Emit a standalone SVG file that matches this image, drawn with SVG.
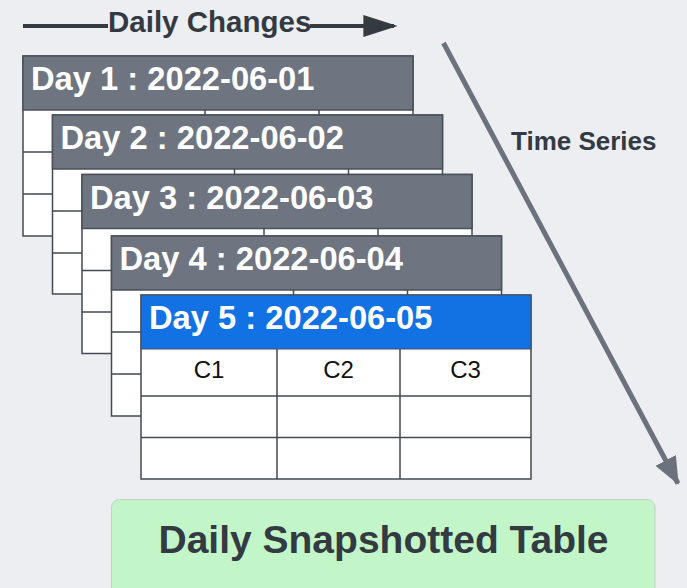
<svg xmlns="http://www.w3.org/2000/svg" width="687" height="588" viewBox="0 0 687 588">
<defs>
<style>
.bg{fill:#eceef2}
.body{fill:#ffffff;stroke:#444a52;stroke-width:1.5}
.hdr{fill:#6e7580;stroke:#4a5058;stroke-width:1.5}
.hdr5{fill:#1271e3;stroke:#4a5058;stroke-width:1}
.grid{stroke:#444a52;stroke-width:1.5;fill:none}
.htxt{font-family:"Liberation Sans",Arial,sans-serif;font-weight:bold;font-size:32.7px;fill:#ffffff}
.ctxt{font-family:"Liberation Sans",Arial,sans-serif;font-size:24px;fill:#111111;text-anchor:middle}
.lbl{font-family:"Liberation Sans",Arial,sans-serif;font-weight:bold;fill:#343a42}
</style>
<marker id="ahDark" viewBox="0 0 10 10" refX="9" refY="5" markerWidth="8.5" markerHeight="5.5" markerUnits="strokeWidth" orient="auto" preserveAspectRatio="none">
<path d="M0,0 L10,5 L0,10 Z" fill="#343a40"/>
</marker>
<marker id="ahGray" viewBox="0 0 10 10" refX="9.5" refY="5" markerWidth="5.5" markerHeight="4.6" markerUnits="strokeWidth" orient="auto" preserveAspectRatio="none">
<path d="M0,0 L10,5 L0,10 Z" fill="#6b727d"/>
</marker>
</defs>
<rect class="bg" x="0" y="0" width="687" height="588"/>

<g id="day1">
<rect class="body" x="23" y="56" width="390" height="180"/>
<path class="grid" d="M23,152 H413 M23,194 H413 M205,110 V236 M319,110 V236"/>
<rect class="hdr" x="23" y="56" width="390" height="54"/>
<text class="htxt" x="31" y="90">Day 1 : 2022-06-01</text>
</g>

<g id="day2">
<rect class="body" x="52.5" y="115" width="390" height="179"/>
<path class="grid" d="M52.5,211 H442.5 M52.5,253 H442.5 M234.5,169 V294 M348.5,169 V294"/>
<rect class="hdr" x="52.5" y="115" width="390" height="54"/>
<text class="htxt" x="60.5" y="149">Day 2 : 2022-06-02</text>
</g>

<g id="day3">
<rect class="body" x="82" y="174.5" width="390" height="179"/>
<path class="grid" d="M82,270.5 H472 M82,312 H472 M264,228.5 V353.5 M378,228.5 V353.5"/>
<rect class="hdr" x="82" y="174.5" width="390" height="54"/>
<text class="htxt" x="90" y="208.5">Day 3 : 2022-06-03</text>
</g>

<g id="day4">
<rect class="body" x="111.5" y="236" width="390" height="180"/>
<path class="grid" d="M111.5,332 H501.5 M111.5,374 H501.5 M293.5,290 V416 M407.5,290 V416"/>
<rect class="hdr" x="111.5" y="236" width="390" height="54"/>
<text class="htxt" x="119.5" y="270">Day 4 : 2022-06-04</text>
</g>

<g id="day5">
<rect class="body" x="141" y="295" width="390" height="184"/>
<path class="grid" d="M141,396 H531 M141,437.5 H531 M277,349 V479 M400,349 V479"/>
<rect class="hdr5" x="141" y="295" width="390" height="54"/>
<text class="htxt" x="149" y="329">Day 5 : 2022-06-05</text>
<text class="ctxt" x="209" y="378">C1</text>
<text class="ctxt" x="338.5" y="378">C2</text>
<text class="ctxt" x="465.5" y="378">C3</text>
</g>

<g id="snapshot">
<rect x="111.5" y="499.5" width="543.5" height="97" rx="8" fill="#c2f6c8" stroke="#c6cfc9" stroke-width="1"/>
<text class="lbl" x="383.5" y="553" font-size="39" text-anchor="middle">Daily Snapshotted Table</text>
</g>

<g id="connectors">
<line x1="23" y1="26" x2="108" y2="26" stroke="#343a40" stroke-width="4"/>
<line x1="310" y1="26" x2="394" y2="26" stroke="#343a40" stroke-width="4" marker-end="url(#ahDark)"/>
<text class="lbl" x="108" y="32" font-size="29.5">Daily Changes</text>
<line x1="443.5" y1="43" x2="678" y2="483.5" stroke="#6b727d" stroke-width="5" marker-end="url(#ahGray)"/>
<text class="lbl" x="511" y="150" font-size="26">Time Series</text>
</g>
</svg>
